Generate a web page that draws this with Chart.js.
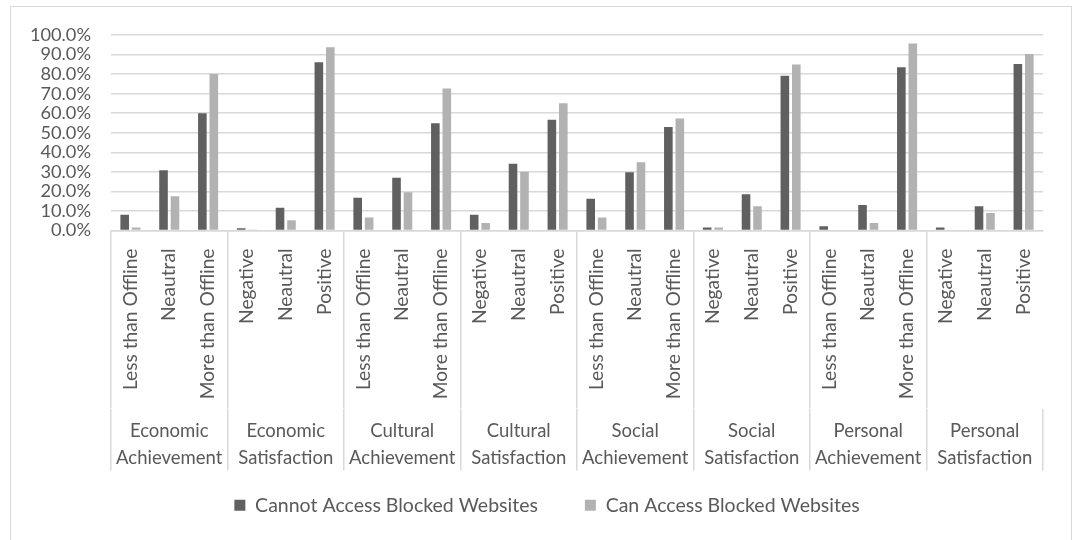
<!DOCTYPE html>
<html>
<head>
<meta charset="utf-8">
<script src="https://cdn.jsdelivr.net/npm/chart.js@4"></script>
<style>
  html, body { margin: 0; padding: 0; background: #ffffff; }
  #wrap { position: relative; width: 1075px; height: 540px; }
  #frame { position: absolute; left: 10px; top: 6px; width: 1062px; height: 540px; border: 1px solid #d9d9d9; box-sizing: border-box; pointer-events: none; }
  canvas { position: absolute; left: 0; top: 0; }
</style>
</head>
<body>
<div id="wrap">
  <canvas id="c" width="1075" height="540"></canvas>
  <div id="frame"></div>
</div>
<script>
const groupNames = [
  ['Economic', 'Achievement'], ['Economic', 'Satisfaction'],
  ['Cultural', 'Achievement'], ['Cultural', 'Satisfaction'],
  ['Social', 'Achievement'], ['Social', 'Satisfaction'],
  ['Personal', 'Achievement'], ['Personal', 'Satisfaction']
];
const achievementLevels = ['Less than Offline', 'Neautral', 'More than Offline'];
const satisfactionLevels = ['Negative', 'Neautral', 'Positive'];
const seriesNames = ['Cannot Access Blocked Websites', 'Can Access Blocked Websites'];
const cannotAccess = [8.0, 30.8, 60.0, 1.2, 11.7, 86.0, 16.8, 27.0, 54.9, 8.0, 34.2, 56.6,
                      16.2, 29.8, 52.9, 1.5, 18.5, 79.1, 2.2, 13.1, 83.5, 1.5, 12.4, 85.2];
const canAccess = [1.5, 17.5, 80.1, 0.5, 5.3, 93.7, 6.6, 19.6, 72.6, 3.9, 30.1, 65.1,
                   6.6, 34.9, 57.3, 1.5, 12.4, 84.9, 0.0, 3.9, 95.7, 0.0, 9.0, 90.3];
const yMin = 0, yMax = 100, yStep = 10;

const subLabels = [];
groupNames.forEach((g, i) => {
  const lv = (i % 2 === 0) ? achievementLevels : satisfactionLevels;
  lv.forEach(l => subLabels.push(l));
});

const textColor = '#595959';
const gridColor = '#d9d9d9';

new Chart(document.getElementById('c'), {
  type: 'bar',
  data: {
    labels: subLabels,
    datasets: [
      { label: seriesNames[0], data: cannotAccess, backgroundColor: '#606060', xAxisID: 'x', yAxisID: 'y', barPercentage: 0.75, categoryPercentage: 0.59 },
      { label: seriesNames[1], data: canAccess, backgroundColor: '#b2b2b2', xAxisID: 'x', yAxisID: 'y', barPercentage: 0.75, categoryPercentage: 0.59 }
    ]
  },
  options: {
    responsive: false,
    animation: false,
    layout: { padding: { left: 20, right: 1, top: 35, bottom: 15 } },
    plugins: {
      legend: {
        position: 'bottom',
        labels: { color: textColor, font: { family: 'Lato', size: 19.5 }, boxWidth: 11, boxHeight: 11, padding: 47 }
      },
      tooltip: { enabled: false }
    },
    scales: {
      y: {
        position: 'left',
        min: yMin, max: yMax,
        afterFit: (s) => { s.width = 91; },
        ticks: { color: textColor, font: { family: 'Lato', size: 18.2 }, padding: 20, stepSize: yStep, autoSkip: false, callback: (v) => v.toFixed(1) + '%' },
        grid: { color: gridColor, lineWidth: 1.5, drawTicks: false },
        border: { display: false }
      },
      yPad: {
        position: 'right',
        min: yMin, max: yMax,
        afterFit: (s) => { s.width = 31; },
        ticks: { display: false },
        grid: { display: false, drawTicks: false },
        border: { display: false }
      },
      x: {
        type: 'category',
        position: 'bottom',
        offset: true,
        afterFit: (s) => { s.height = 178; },
        ticks: { color: textColor, font: { family: 'Lato', size: 19.2 }, minRotation: 90, maxRotation: 90, autoSkip: false, padding: -160 },
        grid: {
          offset: true,
          drawOnChartArea: false,
          tickLength: 178,
          lineWidth: 1.5,
          color: (ctx) => (ctx.index % 3 === 0 ? gridColor : 'rgba(0,0,0,0)')
        },
        border: { display: true, color: gridColor, width: 1.5 }
      },
      x2: {
        type: 'category',
        position: 'bottom',
        labels: groupNames,
        offset: true,
        afterFit: (s) => { s.height = 40; },
        ticks: { color: textColor, font: { family: 'Lato', size: 18.5, lineHeight: 1.46 }, autoSkip: false, maxRotation: 0, mirror: true, padding: -36.5 },
        grid: { offset: true, drawOnChartArea: false, tickLength: 62, lineWidth: 1.5, color: gridColor },
        border: { display: false }
      }
    }
  }
});
</script>
</body>
</html>
